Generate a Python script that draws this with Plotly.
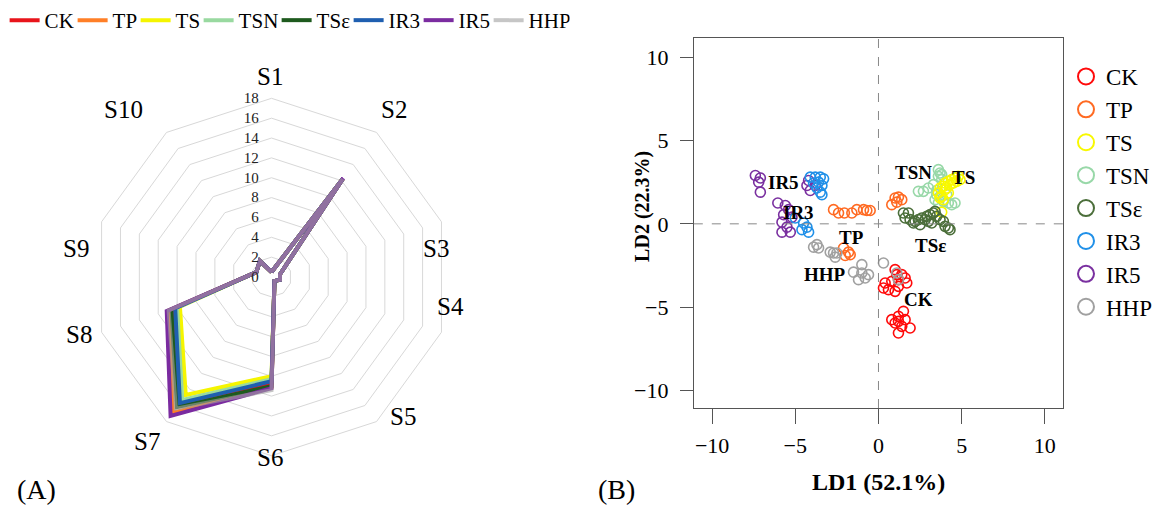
import plotly.graph_objects as go

# ---------------- Panel A data (radar) ----------------
axes_labels = ["S1", "S2", "S3", "S4", "S5", "S6", "S7", "S8", "S9", "S10"]
groups = ["CK", "TP", "TS", "TSN", "TSε", "IR3", "IR5", "HHP"]

radar_CK  = [0.5, 12.2, 0.9, 0.9, 0.5, 10.7, 16.0, 10.5, 1.6, 2.0]
radar_TP  = [0.5, 12.2, 0.9, 0.9, 0.5, 11.1, 16.9, 10.9, 1.6, 2.0]
radar_TS  = [0.5, 12.2, 0.9, 0.9, 0.5, 10.0, 14.7, 9.7, 1.6, 2.0]
radar_TSN = [0.5, 12.2, 0.9, 0.9, 0.5, 10.3, 15.3, 10.0, 1.6, 2.0]
radar_TSe = [0.5, 12.2, 0.9, 0.9, 0.5, 11.0, 16.2, 10.6, 1.6, 2.0]
radar_IR3 = [0.5, 12.2, 0.9, 0.9, 0.5, 10.5, 15.7, 10.2, 1.6, 2.0]
radar_IR5 = [0.5, 12.3, 0.9, 0.9, 0.5, 11.2, 17.3, 11.1, 1.6, 2.0]
radar_HHP = [0.5, 12.2, 0.9, 0.9, 0.5, 11.4, 16.4, 10.9, 1.6, 2.0]
radar_vals = [radar_CK, radar_TP, radar_TS, radar_TSN, radar_TSe, radar_IR3, radar_IR5, radar_HHP]

radar_colors = ["#E8141B", "#FF7F27", "#F5F500", "#99D9A0", "#1E5A1E", "#1F5FB0", "#7B2CA0", "#A0A0A0"]
# width reserved for each legend label (px), slightly tighter than the text
legend_widths = [23, 18, 18, 33, 27, 25, 25, 36]

# angular label anchor points (pixel positions)
axis_lab_px = [270, 395, 437, 451, 404, 270, 147, 79, 76, 124]
axis_lab_py = [76, 110, 248, 306, 416, 457, 441, 335, 248, 110]

# ---------------- Panel B data (LDA scores) ----------------
CK_x = [1.0, 1.4, 1.6, 1.2, 0.8, 0.4, 0.3, 0.6, 1.0, 1.2, 1.7, 1.1, 1.5, 1.2, 0.8, 1.2, 1.6, 1.9, 1.2, 1.4, 1.0]
CK_y = [-2.75, -3.05, -3.25, -3.35, -3.45, -3.55, -3.85, -3.95, -4.05, -3.75, -3.55, -3.05, -5.25, -5.55, -5.75, -5.85, -5.75, -6.25, -6.55, -6.15, -5.95]
TP_x = [-2.7, -2.4, -2.05, -1.6, -1.3, -0.9, -0.7, -0.5, -1.8, -2.1, -2.0, -1.7, 0.8, 1.0, 1.2, 1.4, 1.1]
TP_y = [0.85, 0.65, 0.65, 0.65, 0.85, 0.85, 0.8, 0.8, -1.7, -1.45, -1.9, -1.85, 1.15, 1.55, 1.6, 1.45, 1.3]
TS_x = [4.8, 4.6, 4.4, 4.2, 4.0, 3.9, 3.7, 4.1, 4.3, 4.5, 4.7, 4.9, 3.6, 3.8, 3.9, 3.7, 4.0, 4.2, 3.8]
TS_y = [2.85, 2.75, 2.65, 2.55, 2.45, 2.25, 2.15, 2.15, 2.35, 2.45, 2.55, 2.65, 1.85, 1.65, 1.45, 1.55, 2.05, 1.85, 0.7]
TSN_x = [3.6, 3.7, 3.8, 3.6, 2.4, 2.7, 3.0, 3.3, 3.5, 3.5, 3.7, 3.4, 3.6, 3.9, 4.2, 4.4, 4.6, 4.1, 3.8]
TSN_y = [3.25, 3.05, 2.95, 2.85, 1.95, 1.95, 2.15, 2.35, 2.0, 1.75, 1.65, 1.45, 1.25, 1.35, 1.25, 1.15, 1.25, 1.75, 2.65]
TSe_x = [1.5, 1.8, 1.6, 1.9, 2.2, 2.4, 2.6, 2.8, 2.9, 3.1, 3.3, 3.4, 3.5, 3.7, 3.9, 4.0, 4.2, 4.3, 2.5, 2.1, 3.0, 3.2]
TSe_y = [0.65, 0.65, 0.35, 0.25, 0.15, 0.25, 0.35, 0.25, 0.45, 0.55, 0.65, 0.75, 0.45, 0.25, 0.15, -0.15, -0.25, -0.35, -0.05, 0.05, 0.15, 0.05]
IR3_x = [-4.1, -3.8, -3.5, -3.3, -3.6, -3.4, -3.9, -3.7, -3.5, -3.4, -5.0, -4.5, -4.6, -4.3, -4.2]
IR3_y = [2.8, 2.8, 2.8, 2.7, 2.5, 2.3, 2.45, 2.15, 1.9, 1.75, 0.35, 0.05, -0.35, -0.2, -0.5]
IR5_x = [-7.4, -7.1, -7.2, -7.1, -4.2, -4.3, -4.1, -3.8, -6.05, -5.6, -5.4, -5.7, -5.8, -5.5, -5.8, -5.3, -5.2]
IR5_y = [2.9, 2.75, 2.5, 1.9, 2.6, 2.3, 2.0, 2.3, 1.25, 1.1, 0.85, 0.55, 0.1, -0.2, -0.5, -0.5, 0.4]
HHP_x = [-3.9, -3.7, -3.6, -2.9, -2.7, -2.5, -2.6, -1.5, -1.0, -1.0, -0.8, -0.6, -1.2, 0.3, 1.1, 1.2]
HHP_y = [-1.4, -1.25, -1.45, -1.7, -1.75, -1.75, -2.0, -2.9, -2.45, -2.95, -3.25, -3.05, -3.35, -2.35, -2.95, -3.35]

scatter_x = [CK_x, TP_x, TS_x, TSN_x, TSe_x, IR3_x, IR5_x, HHP_x]
scatter_y = [CK_y, TP_y, TS_y, TSN_y, TSe_y, IR3_y, IR5_y, HHP_y]
scatter_colors = ["#FF0A0A", "#FF6A22", "#F8F800", "#98D8A8", "#4B6E3A", "#2090E8", "#7A30A0", "#A0A0A0"]
draw_order = [0, 1, 3, 2, 4, 6, 5, 7]  # TSN under TS, IR5 under IR3

# label positions for group names in panel B
lab_text = ["IR5", "IR3", "TP", "HHP", "TSN", "TS", "TSε", "CK"]
lab_x = [-5.7, -4.8, -1.6, -3.2, 2.1, 5.1, 3.1, 2.4]
lab_y = [2.45, 0.7, -0.8, -3.05, 3.1, 2.8, -1.3, -4.55]

x_ticks = [-10, -5, 0, 5, 10]
y_ticks = [-10, -5, 0, 5, 10]
tick_text = ["\u221210", "\u22125", "0", "5", "10"]
r_ticks = [0, 2, 4, 6, 8, 10, 12, 14, 16, 18]

FONT = "Liberation Serif"
W, H = 1158, 505

fig = go.Figure()

# radar traces
for i, g in enumerate(groups):
    fig.add_trace(go.Scatterpolar(
        r=radar_vals[i] + [radar_vals[i][0]],
        theta=axes_labels + [axes_labels[0]],
        mode="lines",
        name=g,
        line=dict(color=radar_colors[i], width=4),
        opacity=0.6 if g == "HHP" else 1.0,
        legend="legend",
        legendwidth=legend_widths[i],
        subplot="polar",
    ))

# scatter traces (points) and legend entries
for i in draw_order:
    fig.add_trace(go.Scatter(
        x=scatter_x[i], y=scatter_y[i],
        mode="markers",
        name=groups[i],
        showlegend=False,
        marker=dict(symbol="circle-open", size=10, color=scatter_colors[i], line=dict(width=1.6)),
        xaxis="x", yaxis="y",
    ))
for i, g in enumerate(groups):
    fig.add_trace(go.Scatter(
        x=[None], y=[None],
        mode="markers",
        name=g,
        marker=dict(symbol="circle-open", size=16, color=scatter_colors[i], line=dict(width=2)),
        legend="legend2",
        xaxis="x", yaxis="y",
    ))

# radar geometry (pixels)
cx, cy, R = 272, 277, 179
fig.update_layout(
    width=W, height=H,
    margin=dict(l=0, r=0, t=0, b=0),
    paper_bgcolor="white", plot_bgcolor="white",
    font=dict(family=FONT, color="black"),
    showlegend=True,
    polar=dict(
        domain=dict(x=[(cx - R) / W, (cx + R) / W], y=[(H - cy - R) / H, (H - cy + R) / H]),
        gridshape="linear",
        bgcolor="white",
        radialaxis=dict(range=[0, 18], tickvals=r_ticks, angle=90, tickangle=90,
                        side="counterclockwise", showline=False,
                        ticks="outside", ticklen=7, tickcolor="rgba(0,0,0,0)",
                        gridcolor="#D8D8D8", gridwidth=1,
                        tickfont=dict(family=FONT, size=15, color="#222")),
        angularaxis=dict(direction="clockwise", rotation=90, showgrid=False,
                         showline=True, linecolor="#D8D8D8", linewidth=1, ticks="",
                         showticklabels=False),
    ),
    xaxis=dict(domain=[695 / W, 1065 / W], range=[-11.1, 11.1], tickvals=x_ticks,
               ticktext=tick_text,
               showgrid=False, zeroline=False, showline=True, mirror=True,
               linecolor="#555", linewidth=1, ticks="outside", ticklen=15, tickcolor="#555",
               ticklabelstandoff=3,
               tickfont=dict(family=FONT, size=22)),
    yaxis=dict(domain=[(H - 408) / H, (H - 38) / H], range=[-11.05, 11.15], tickvals=y_ticks,
               ticktext=tick_text,
               showgrid=False, zeroline=False, showline=True, mirror=True,
               linecolor="#555", linewidth=1, ticks="outside", ticklen=13, tickcolor="#555",
               ticklabelstandoff=7,
               tickfont=dict(family=FONT, size=22)),
    legend=dict(orientation="h", x=0.004, y=1.0, xanchor="left", yanchor="top",
                font=dict(family=FONT, size=21), itemwidth=30, bgcolor="rgba(0,0,0,0)",
                tracegroupgap=0),
    legend2=dict(orientation="v", x=1068 / W, y=(H - 55) / H, xanchor="left", yanchor="top",
                 font=dict(family=FONT, size=23), bgcolor="rgba(0,0,0,0)", itemwidth=30),
)

# angular axis labels
for t, px, py in zip(axes_labels, axis_lab_px, axis_lab_py):
    fig.add_annotation(x=px / W, y=(H - py) / H, xref="paper", yref="paper", text=t,
                       showarrow=False, xanchor="center", yanchor="middle",
                       font=dict(family=FONT, size=25, color="black"))

# dashed reference lines at zero
fig.add_shape(type="line", xref="x", yref="paper", x0=0, x1=0, y0=(H - 408) / H, y1=(H - 38) / H,
              line=dict(color="#888", width=1, dash="dash"))
fig.add_shape(type="line", xref="paper", yref="y", x0=695 / W, x1=1065 / W, y0=0, y1=0,
              line=dict(color="#888", width=1, dash="dash"))

for t, x, y in zip(lab_text, lab_x, lab_y):
    fig.add_annotation(x=x, y=y, xref="x", yref="y", text="<b>" + t + "</b>", showarrow=False,
                       xanchor="center", yanchor="middle",
                       font=dict(family=FONT, size=19, color="black"))

# axis titles
fig.add_annotation(x=880 / W, y=(H - 482) / H, xref="paper", yref="paper", text="<b>LD1 (52.1%)</b>",
                   showarrow=False, xanchor="center", yanchor="middle", font=dict(family=FONT, size=24))
fig.add_annotation(x=643 / W, y=(H - 206) / H, xref="paper", yref="paper", text="<b>LD2 (22.3%)</b>",
                   showarrow=False, xanchor="center", yanchor="middle", textangle=-90,
                   font=dict(family=FONT, size=20))

fig.add_annotation(x=15 / W, y=(H - 489) / H, xref="paper", yref="paper", text="(A)", showarrow=False,
                   xanchor="left", yanchor="middle", font=dict(family=FONT, size=28))
fig.add_annotation(x=597 / W, y=(H - 489) / H, xref="paper", yref="paper", text="(B)", showarrow=False,
                   xanchor="left", yanchor="middle", font=dict(family=FONT, size=28))

fig.write_html("out.html")
